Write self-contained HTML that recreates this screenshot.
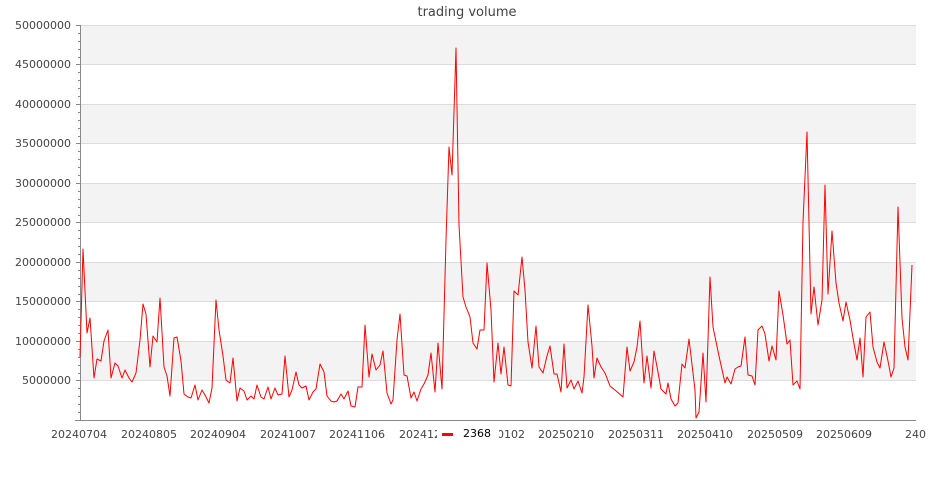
<!DOCTYPE html>
<html><head><meta charset="utf-8"><style>
body{margin:0;background:#fff}
svg{display:block;font-family:"DejaVu Sans","Liberation Sans",sans-serif}
</style></head><body>
<svg width="935" height="500" viewBox="0 0 935 500" xmlns="http://www.w3.org/2000/svg">
<rect width="935" height="500" fill="#fff"/>
<g fill="#f3f3f3">
<rect x="80" y="25" width="836" height="39.5"/>
<rect x="80" y="104" width="836" height="39.5"/>
<rect x="80" y="183" width="836" height="39.5"/>
<rect x="80" y="262" width="836" height="39.5"/>
<rect x="80" y="341" width="836" height="39.5"/>
</g>
<g stroke="#dcdcdc" stroke-width="1">
<line x1="80" x2="916" y1="25.5" y2="25.5"/><line x1="80" x2="916" y1="64.5" y2="64.5"/>
<line x1="80" x2="916" y1="104.5" y2="104.5"/><line x1="80" x2="916" y1="143.5" y2="143.5"/>
<line x1="80" x2="916" y1="183.5" y2="183.5"/><line x1="80" x2="916" y1="222.5" y2="222.5"/>
<line x1="80" x2="916" y1="262.5" y2="262.5"/><line x1="80" x2="916" y1="301.5" y2="301.5"/>
<line x1="80" x2="916" y1="341.5" y2="341.5"/><line x1="80" x2="916" y1="380.5" y2="380.5"/>
</g>
<g stroke="#888" stroke-width="1">
<line x1="80.5" y1="25" x2="80.5" y2="420"/>
<line x1="75" y1="420.5" x2="916" y2="420.5"/>
<path d="M76 25.5h4M76 64.5h4M76 104.5h4M76 143.5h4M76 183.5h4M76 222.5h4M76 262.5h4M76 301.5h4M76 341.5h4M76 380.5h4"/>
<path d="M78 33.5h2M78 41.5h2M78 49.5h2M78 57.5h2M78 72.5h2M78 80.5h2M78 88.5h2M78 96.5h2M78 112.5h2M78 120.5h2M78 128.5h2M78 136.5h2M78 151.5h2M78 159.5h2M78 167.5h2M78 175.5h2M78 191.5h2M78 199.5h2M78 207.5h2M78 215.5h2M78 230.5h2M78 238.5h2M78 246.5h2M78 254.5h2M78 270.5h2M78 278.5h2M78 286.5h2M78 294.5h2M78 309.5h2M78 317.5h2M78 325.5h2M78 333.5h2M78 349.5h2M78 357.5h2M78 365.5h2M78 373.5h2M78 388.5h2M78 396.5h2M78 404.5h2M78 412.5h2"/>
</g>
<g fill="#444" font-size="11" text-anchor="end">
<text x="71" y="29">50000000</text><text x="71" y="68">45000000</text>
<text x="71" y="108">40000000</text><text x="71" y="147">35000000</text>
<text x="71" y="187">30000000</text><text x="71" y="226">25000000</text>
<text x="71" y="266">20000000</text><text x="71" y="305">15000000</text>
<text x="71" y="345">10000000</text><text x="71" y="384">5000000</text>
</g>
<text x="467" y="16" fill="#444" font-size="13" text-anchor="middle">trading volume</text>
<g fill="#444" font-size="11" text-anchor="middle">
<text x="79" y="438">20240704</text><text x="149" y="438">20240805</text>
<text x="218" y="438">20240904</text><text x="288" y="438">20241007</text>
<text x="357" y="438">20241106</text><text x="427" y="438">20241204</text>
<text x="497" y="438">20250102</text><text x="566" y="438">20250210</text>
<text x="636" y="438">20250311</text><text x="705" y="438">20250410</text>
<text x="775" y="438">20250509</text><text x="844" y="438">20250609</text>
<text x="905" y="438" text-anchor="start">240</text>
</g>
<rect x="437" y="424" width="62" height="20" fill="#fff"/>
<line x1="442" y1="434.5" x2="453" y2="434.5" stroke="#f00" stroke-width="3"/>
<text x="463" y="437" fill="#000" font-size="11">2368</text>
<polyline fill="none" stroke="#f00" stroke-width="1" stroke-linejoin="round" points="80,357 83,249 87,333 90,318 94,378 97,359 101,361 104,341 108,330 111,378 115,363 118,366 122,378 125,370 129,378 132,382 136,373 140,340 143,304 146,314 150,367 153,336 157,342 160,298 164,367 167,376 170,396 174,338 177,337 181,361 184,394 188,397 191,398 195,385 198,400 202,390 205,395 209,403 212,388 216,300 219,330 223,356 226,380 230,383 233,358 237,401 240,388 244,391 247,400 251,396 254,399 257,385 261,397 264,399 268,387 271,399 275,388 278,395 282,394 285,356 289,397 292,390 296,372 299,385 302,388 306,386 309,400 313,392 316,389 320,364 324,372 327,396 331,401 334,402 337,401 341,394 344,399 348,391 351,406 355,407 358,387 362,387 365,325 369,377 372,354 376,370 380,365 383,351 387,393 391,404 393,400 397,340 400,314 404,375 407,376 411,398 414,392 417,401 421,389 424,384 428,375 431,353 435,392 438,343 442,389 446,240 449,147 452,175 456,48 459,225 463,297 466,307 470,317 473,343 477,349 480,330 484,330 487,263 491,310 494,382 498,343 501,374 504,347 508,385 511,386 514,291 518,295 522,257 525,290 528,342 532,368 536,326 539,367 543,373 547,356 550,346 554,374 557,374 561,392 564,344 567,388 571,380 574,389 578,381 582,393 584,377 588,305 592,346 594,378 597,358 601,367 605,373 610,386 615,390 623,397 627,347 630,371 634,362 637,347 640,321 644,383 647,356 651,388 654,351 658,372 661,389 666,394 668,383 671,399 675,406 678,403 682,364 685,368 689,339 695,390 696,418 699,412 703,353 706,402 710,277 713,327 719,356 725,383 727,377 731,384 735,369 738,367 741,366 745,337 748,375 752,376 755,385 758,330 762,326 765,334 769,361 772,346 776,360 779,291 783,315 787,344 790,340 793,385 797,381 800,389 803,222 807,132 811,314 814,287 818,325 822,300 825,185 828,294 832,231 836,283 839,303 843,321 846,302 850,320 853,338 857,360 860,338 863,377 866,317 870,312 873,347 877,362 880,368 884,342 888,361 891,377 894,368 898,207 902,318 905,347 908,360 912,265"/>
</svg>
</body></html>
